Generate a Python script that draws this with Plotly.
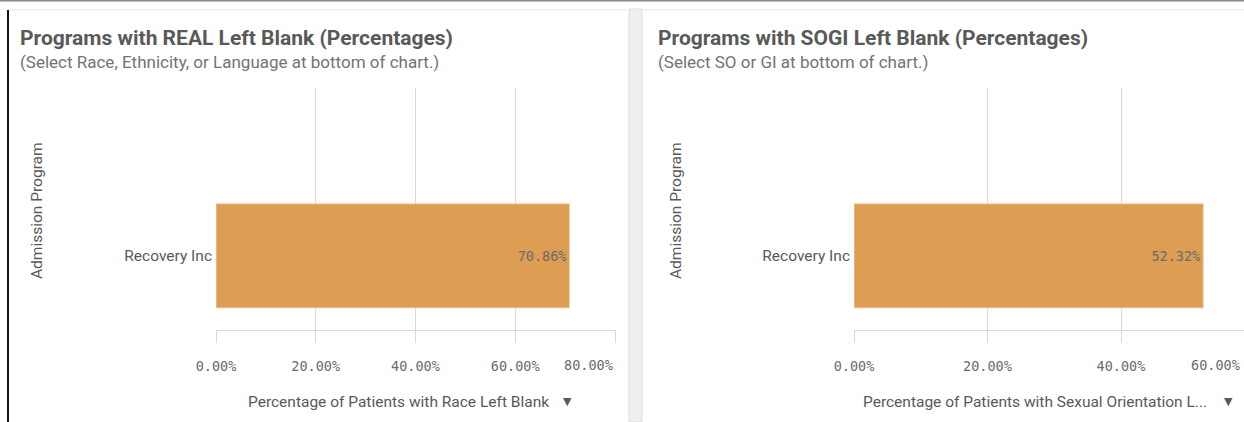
import plotly.graph_objects as go

W, H = 1244, 422

# ---- data ----
programs = ["Recovery Inc"]
race_blank_pct = [70.86]
so_blank_pct = [52.32]
left_ticks = [0, 20, 40, 60, 80]
right_ticks = [0, 20, 40, 60]

left_title = "Programs with REAL Left Blank (Percentages)"
left_sub = "(Select Race, Ethnicity, or Language at bottom of chart.)"
right_title = "Programs with SOGI Left Blank (Percentages)"
right_sub = "(Select SO or GI at bottom of chart.)"
left_xtitle = "Percentage of Patients with Race Left Blank"
right_xtitle = "Percentage of Patients with Sexual Orientation L..."
ytitle = "Admission Program"


def px(x):
    return x / W


def py(y):
    return 1 - y / H


BAR = "#DD9D53"
TXT = "#595959"
GRID = "#d9d9d9"
MONO = "DejaVu Sans Mono"
SANS = "Roboto"
MSIZE = 13.5
RIGHT_PX_PER_UNIT = 6.675

fig = go.Figure()
for xa, ya, vals in [("x", "y", race_blank_pct), ("x2", "y2", so_blank_pct)]:
    fig.add_trace(go.Bar(
        x=vals, y=programs, orientation="h", xaxis=xa, yaxis=ya,
        width=0.8, marker=dict(color=BAR, line=dict(color="#f2cfa6", width=1)),
        text=[f"{v:.2f}%" for v in vals], textposition="inside",
        insidetextanchor="end", textfont=dict(family=MONO, size=MSIZE, color="#6b6b6b"),
        hoverinfo="skip"))


def xax(domain, rng, ticks, lastlabel_hidden, anchor):
    return dict(
        domain=domain, range=rng, anchor=anchor, tickvals=ticks, automargin=False,
        ticktext=[("" if (lastlabel_hidden and t == ticks[-1]) else f"{t:.2f}%") for t in ticks],
        showgrid=True, gridcolor=GRID, gridwidth=1, zeroline=False,
        showline=True, linecolor=GRID, linewidth=1,
        ticks="outside", ticklen=12, tickcolor=GRID, tickwidth=1,
        ticklabelstandoff=12,
        tickfont=dict(family=MONO, size=MSIZE, color="#6b6b6b"), fixedrange=True)


def yax(anchor):
    return dict(domain=[py(330), py(88)], range=[-0.57, 1.29], ticks="", showgrid=False,
                zeroline=False, showline=False, ticklabelstandoff=3, anchor=anchor,
                automargin=False,
                tickfont=dict(family=SANS, size=15.5, color=TXT), fixedrange=True)


fig.update_layout(
    width=W, height=H, margin=dict(l=0, r=0, t=0, b=0, pad=0), autosize=False,
    paper_bgcolor="white", plot_bgcolor="white", showlegend=False,
    xaxis=xax([px(216), px(616)], [0, 80.2], left_ticks, True, "y"),
    yaxis=yax("x"),
    xaxis2=xax([px(854), 1.0], [0, (1244 - 854) / RIGHT_PX_PER_UNIT], right_ticks, False, "y2"),
    yaxis2=yax("x2"),
)

shapes = [
    dict(type="line", xref="paper", yref="paper", x0=0, x1=1, y0=py(0.5), y1=py(0.5),
         line=dict(color="#8c8c8c", width=2)),
    dict(type="line", xref="paper", yref="paper", x0=px(8), x1=px(627), y0=py(10), y1=py(10),
         line=dict(color="#e3e3e3", width=1)),
    dict(type="line", xref="paper", yref="paper", x0=px(8), x1=px(8), y0=py(10), y1=0,
         line=dict(color="#111111", width=2)),
    dict(type="rect", xref="paper", yref="paper", x0=px(629), x1=px(642), y0=0, y1=py(9),
         fillcolor="#efefef", line=dict(color="#dcdcdc", width=1), layer="below"),
    dict(type="line", xref="paper", yref="paper", x0=px(643), x1=1, y0=py(10), y1=py(10),
         line=dict(color="#e3e3e3", width=1)),
]
fig.update_layout(shapes=shapes)

ann = []
for x0, t, s in [(20, left_title, left_sub), (658, right_title, right_sub)]:
    ann.append(dict(text=f"<b>{t}</b>", xref="paper", yref="paper", x=px(x0 - 2), y=py(38),
                    xanchor="left", yanchor="middle", showarrow=False,
                    font=dict(family=SANS, size=21, color=TXT)))
    ann.append(dict(text=s, xref="paper", yref="paper", x=px(x0 - 2), y=py(62),
                    xanchor="left", yanchor="middle", showarrow=False,
                    font=dict(family=SANS, size=17, color="#737373")))
for xc in [37, 676]:
    ann.append(dict(text=ytitle, xref="paper", yref="paper", x=px(xc), y=py(211),
                    xanchor="center", yanchor="middle", textangle=-90, showarrow=False,
                    font=dict(family=SANS, size=15.5, color=TXT)))
for xc, t, tri in [(398.5, left_xtitle, 567), (1035, right_xtitle, 1228)]:
    ann.append(dict(text=t, xref="paper", yref="paper", x=px(xc), y=py(402),
                    xanchor="center", yanchor="middle", showarrow=False,
                    font=dict(family=SANS, size=15.5, color=TXT)))
    ann.append(dict(text="▼", xref="paper", yref="paper", x=px(tri), y=py(401),
                    xanchor="center", yanchor="middle", showarrow=False,
                    font=dict(family="DejaVu Sans", size=11, color=TXT)))
# last tick labels kept inside the panel, as in the reference
ann.append(dict(text=f"{left_ticks[-1]:.2f}%", xref="x", yref="paper", x=left_ticks[-1],
                y=py(365), xanchor="right", yanchor="middle", showarrow=False,
                font=dict(family=MONO, size=MSIZE, color="#6b6b6b")))
ann.append(dict(text=f"{right_ticks[-1]:.2f}%", xref="paper", yref="paper",
                x=px(1242), y=py(365), xanchor="right", yanchor="middle",
                showarrow=False, font=dict(family=MONO, size=MSIZE, color="#6b6b6b")))
fig.update_layout(annotations=ann)

fig.write_html("out.html", config={"displayModeBar": False},
               post_script="document.body.style.margin='0';")
